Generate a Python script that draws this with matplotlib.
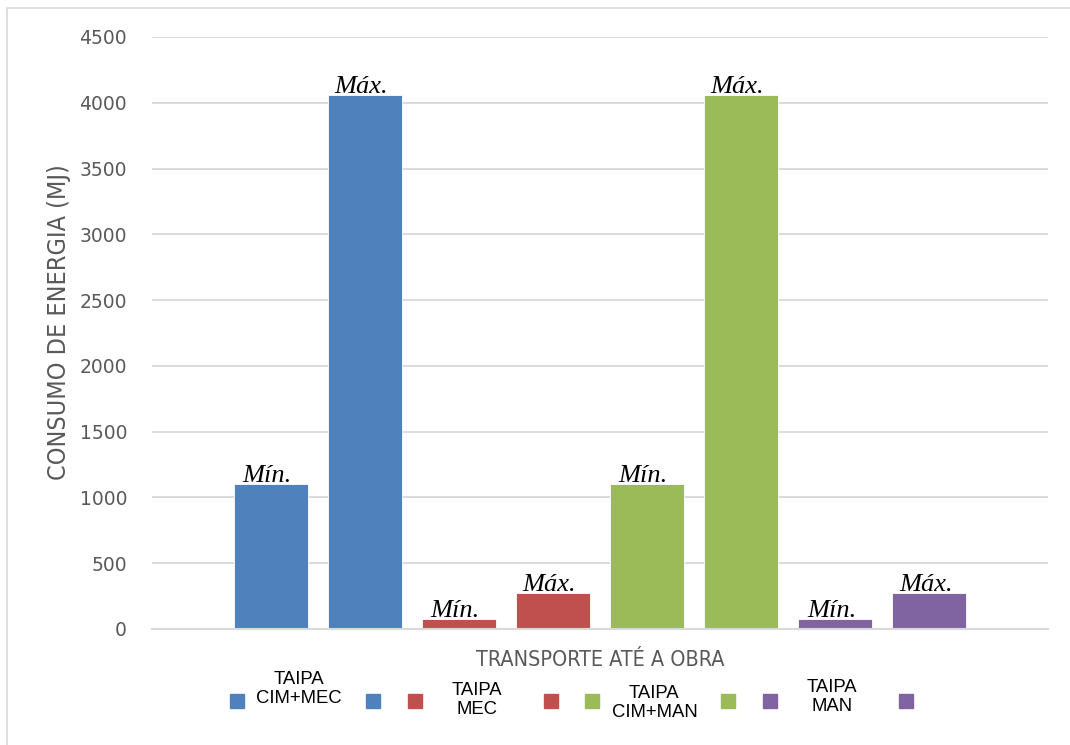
import numpy as np
import matplotlib.pyplot as plt
from matplotlib.patches import Rectangle

# consumo de energia no transporte ate a obra (MJ), min e max por sistema
groups = ['TAIPA\nCIM+MEC', 'TAIPA\nMEC', 'TAIPA\nCIM+MAN', 'TAIPA\nMAN']
min_vals = [1105, 76, 1105, 76]
max_vals = [4060, 275, 4060, 275]
tags = ['Mín.', 'Máx.']
colors = ['#4F81BD', '#C0504D', '#9BBB59', '#8064A2']
yticks = [0, 500, 1000, 1500, 2000, 2500, 3000, 3500, 4000, 4500]

W, H = 1070, 745
GRAY = '#595959'

fig = plt.figure(figsize=(W / 100, H / 100), dpi=100)
ax = fig.add_axes([152 / W, 1 - 629 / H, (1048 - 152) / W, (629 - 37) / H])

values = []
bar_colors = []
bar_tags = []
for mn, mx, c in zip(min_vals, max_vals, colors):
    values += [mn, mx]
    bar_colors += [c, c]
    bar_tags += tags
x = np.arange(len(values))

ax.bar(x, values, width=0.786, color=bar_colors, edgecolor='white', linewidth=0.6, zorder=2)
for xi, v, t in zip(x, values, bar_tags):
    ax.text(xi - 0.04, v + 12, t, ha='center', va='baseline', fontsize=19,
            family='Liberation Serif', style='italic', color='black', zorder=3)

ax.set_xlim(-1.26, 8.26)
ax.set_ylim(0, 4500)
ax.set_yticks(yticks)
ax.set_yticklabels([str(t) for t in yticks])
ax.set_xticks([])
ax.tick_params(axis='y', length=0, pad=18, labelsize=13.5, labelcolor=GRAY)
ax.grid(axis='y', color='#d9d9d9', linewidth=1.3, zorder=0)
ax.set_axisbelow(True)
for s in ['top', 'right', 'left']:
    ax.spines[s].set_visible(False)
ax.spines['bottom'].set_color('#d9d9d9')
ax.spines['bottom'].set_linewidth(1.5)

fig.text(59 / W, 1 - 322 / H, 'CONSUMO DE ENERGIA (MJ)', rotation=90, ha='center', va='center',
         fontsize=18, color=GRAY, family='DejaVu Sans', fontstretch='condensed')
fig.text(600 / W, 1 - 660 / H, 'TRANSPORTE ATÉ A OBRA', ha='center', va='center',
         fontsize=15.5, color=GRAY, family='DejaVu Sans', fontstretch='condensed')

# legenda: dois quadrados por sistema, rotulo entre eles
label_y = [689, 700, 703, 697]
for g, (name, c) in enumerate(zip(groups, colors)):
    x0 = 230 + g * 177.7
    for dx in (0, 136):
        fig.add_artist(Rectangle(((x0 + dx) / W, 1 - 708 / H), 14 / W, 14 / H,
                                 color=c, transform=fig.transFigure))
    fig.text((x0 + 69) / W, 1 - label_y[g] / H, name, ha='center', va='center',
             fontsize=13.3, linespacing=1.15, family='Liberation Sans', color='black')

# moldura do grafico
fig.add_artist(Rectangle((7 / W, -0.05), 1.1, 1 - 8 / H + 0.05, fill=False,
                         edgecolor='#d9d9d9', linewidth=1.2, transform=fig.transFigure))

fig.savefig('out.png', dpi=100)
